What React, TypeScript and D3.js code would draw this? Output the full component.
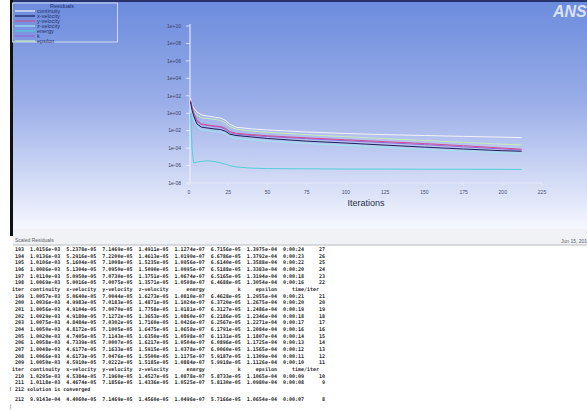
import * as d3 from 'd3';

const W = 587;
const H = 410;

const plotIters = [1, 2, 3, 5, 8, 12, 16, 20, 23, 26, 30, 40, 50, 75, 100, 125, 150, 175, 200, 212];
const continuityRes = [50, 8, 4, 1.4, 0.63, 0.47, 0.36, 0.28, 0.16, 0.056, 0.025, 0.016, 0.012, 7.1e-3, 4.7e-3, 3.5e-3, 2.8e-3, 2.2e-3, 1.8e-3, 1.6e-3];
const xVelRes = [20, 2, 0.5, 0.06, 0.025, 0.02, 0.016, 0.0135, 9e-3, 4e-3, 2.8e-3, 1.9e-3, 1.26e-3, 6.3e-4, 3.8e-4, 2.2e-4, 1.3e-4, 7.9e-5, 5e-5, 4.4e-5];
const yVelRes = [30, 5, 1.2, 0.15, 0.06, 0.045, 0.035, 0.03, 0.02, 8e-3, 5e-3, 3.5e-3, 2.6e-3, 1.5e-3, 9e-4, 5.5e-4, 3.3e-4, 1.9e-4, 1e-4, 7.5e-5];
const zVelRes = [8, 1, 0.2, 0.03, 0.012, 0.01, 8e-3, 7e-3, 5e-3, 2e-3, 1.3e-3, 9e-4, 6.5e-4, 3.4e-4, 2e-4, 1.2e-4, 7e-5, 4.5e-5, 3e-5, 2.5e-5];
const energyRes = [1, 6e-5, 2e-6, 2.5e-6, 3e-6, 3.5e-6, 3e-6, 2e-6, 1.5e-6, 1e-6, 7e-7, 5e-7, 4.5e-7, 4.2e-7, 4e-7, 4e-7, 3.8e-7, 3.8e-7, 3.7e-7, 3.7e-7];
const kRes = [25, 4, 1, 0.12, 0.05, 0.04, 0.03, 0.025, 0.015, 6e-3, 4e-3, 2.8e-3, 2.1e-3, 1.2e-3, 7e-4, 4.2e-4, 2.5e-4, 1.4e-4, 8e-5, 6e-5];
const epsilonRes = [20, 3, 1.5, 0.6, 0.3, 0.25, 0.2, 0.15, 0.08, 0.03, 0.015, 9e-3, 6.5e-3, 3.5e-3, 2e-3, 1.2e-3, 7.5e-4, 4.5e-4, 2.8e-4, 2.3e-4];

const seriesNames = ['continuity', 'x-velocity', 'y-velocity', 'z-velocity', 'energy', 'k', 'epsilon'];
const seriesColors = ['#f4f2f6', '#1d1f5c', '#cf4f95', '#a2e4ee', '#54cfd8', '#9a66d4', '#c6ecbc'];
const seriesValues = [continuityRes, xVelRes, yVelRes, zVelRes, energyRes, kRes, epsilonRes];
// bottom to top
const drawOrder = [4, 3, 6, 0, 5, 2, 1];

const yTicks = [1e10, 1e8, 1e6, 1e4, 1e2, 1, 1e-2, 1e-4, 1e-6, 1e-8];
const yTickLabels = ['1e+10', '1e+08', '1e+06', '1e+04', '1e+02', '1e+00', '1e-02', '1e-04', '1e-06', '1e-08'];
const xTicks = [0, 25, 50, 75, 100, 125, 150, 175, 200, 225];

// console text
const tableIters = [193, 194, 195, 196, 197, 198, 199, 200, 201, 202, 203, 204, 205, 206, 207, 208, 209, 210, 211, 212];
const tContinuity = ['1.0156e-03', '1.0136e-03', '1.0106e-03', '1.0086e-03', '1.0110e-03', '1.0069e-03', '1.0057e-03', '1.0036e-03', '1.0056e-03', '1.0029e-03', '1.0075e-03', '1.0050e-03', '1.0020e-03', '1.0058e-03', '1.0048e-03', '1.0066e-03', '1.0050e-03', '1.0295e-03', '1.0118e-03', '9.9143e-04'];
const tXVel = ['5.2378e-05', '5.2916e-05', '5.1604e-05', '5.1304e-05', '5.0950e-05', '5.0016e-05', '5.0640e-05', '4.9983e-05', '4.9104e-05', '4.9180e-05', '4.8484e-05', '4.8172e-05', '4.7405e-05', '4.7339e-05', '4.6177e-05', '4.6173e-05', '4.5910e-05', '4.5384e-05', '4.4674e-05', '4.4060e-05'];
const tYVel = ['7.1469e-05', '7.2200e-05', '7.1008e-05', '7.0950e-05', '7.0730e-05', '7.0075e-05', '7.0044e-05', '7.0183e-05', '7.0070e-05', '7.1272e-05', '7.0302e-05', '7.1005e-05', '7.1143e-05', '7.0007e-05', '7.1633e-05', '7.0476e-05', '7.0222e-05', '7.1960e-05', '7.1856e-05', '7.1469e-05'];
const tZVel = ['1.4911e-05', '1.4613e-05', '1.5235e-05', '1.5090e-05', '1.3751e-05', '1.3571e-05', '1.6273e-05', '1.4871e-05', '1.7758e-05', '1.3653e-05', '1.7160e-05', '1.6475e-05', '1.6350e-05', '1.6217e-05', '1.5915e-05', '1.5500e-05', '1.5185e-05', '1.4527e-05', '1.4336e-05', '1.4560e-05'];
const tEnergy = ['1.1274e-07', '1.0190e-07', '1.0956e-07', '1.0095e-07', '1.0674e-07', '1.0508e-07', '1.0810e-07', '1.1024e-07', '1.0181e-07', '1.0860e-07', '1.0426e-07', '1.0658e-07', '1.0598e-07', '1.0504e-07', '1.0378e-07', '1.1175e-07', '1.0884e-07', '1.0878e-07', '1.0525e-07', '1.0496e-07'];
const tK = ['6.7156e-05', '6.6786e-05', '6.6140e-05', '6.5188e-05', '6.5165e-05', '6.4688e-05', '6.4628e-05', '6.3720e-05', '6.3127e-05', '6.2186e-05', '6.2567e-05', '6.1791e-05', '6.1131e-05', '6.0896e-05', '6.0060e-05', '5.9187e-05', '5.9918e-05', '5.8733e-05', '5.8130e-05', '5.7166e-05'];
const tEpsilon = ['1.3975e-04', '1.3792e-04', '1.3588e-04', '1.3383e-04', '1.3194e-04', '1.3054e-04', '1.2955e-04', '1.2675e-04', '1.2486e-04', '1.2346e-04', '1.2271e-04', '1.2084e-04', '1.1807e-04', '1.1725e-04', '1.1565e-04', '1.1309e-04', '1.1126e-04', '1.1065e-04', '1.0980e-04', '1.0654e-04'];
const tTime = ['0:00:24', '0:00:23', '0:00:22', '0:00:20', '0:00:18', '0:00:16', '0:00:21', '0:00:20', '0:00:19', '0:00:18', '0:00:17', '0:00:16', '0:00:14', '0:00:13', '0:00:12', '0:00:11', '0:00:10', '0:00:09', '0:00:08', '0:00:07'];
const tLeft = [27, 26, 25, 24, 23, 22, 21, 20, 19, 18, 17, 16, 15, 14, 13, 12, 11, 10, 9, 8];

const headerCols = ['continuity', 'x-velocity', 'y-velocity', 'z-velocity', 'energy', 'k', 'epsilon'];

function fmtRow(i: number) {
  const vals = [tContinuity[i], tXVel[i], tYVel[i], tZVel[i], tEnergy[i], tK[i], tEpsilon[i]];
  return (
    String(tableIters[i]).padStart(6) +
    vals.map((v) => v.padStart(12)).join('') +
    tTime[i].padStart(9) +
    String(tLeft[i]).padStart(7)
  );
}

const header = '  iter' + headerCols.map((c) => c.padStart(12)).join('') + 'time/iter'.padStart(14);

export default function App() {
  const x = d3.scaleLinear().domain([0, 225]).range([189, 542]);
  const y = d3.scaleLog().domain([1e-8, 1e10]).range([183, 26]);

  const line = (vals: number[]) =>
    d3
      .line<number>()
      .x((_, i) => x(plotIters[i]))
      .y((d) => y(d))(vals) || '';

  // console lines
  const consoleLines: { text: string; gap: number }[] = [];
  for (let i = 0; i < 6; i++) consoleLines.push({ text: fmtRow(i), gap: 0 });
  consoleLines.push({ text: header, gap: 0 });
  for (let i = 6; i < 17; i++) consoleLines.push({ text: fmtRow(i), gap: 0 });
  consoleLines.push({ text: header, gap: 0 });
  for (let i = 17; i < 19; i++) consoleLines.push({ text: fmtRow(i), gap: 0 });
  consoleLines.push({ text: ' ! 212 solution is converged', gap: 0 });
  consoleLines.push({ text: fmtRow(19), gap: 3 });

  const mono = '"DejaVu Sans Mono", "Liberation Mono", monospace';
  const sans = '"Liberation Sans", Arial, sans-serif';

  return (
    <div style={{ position: 'absolute', left: 0, top: 0 }}>
      <svg width={W} height={H} viewBox={`0 0 ${W} ${H}`} style={{ display: 'block' }}>
        <defs>
          <linearGradient id="bg" x1="0" y1="0" x2="0" y2="1">
            <stop offset="0" stopColor="#6b8bdd" />
            <stop offset="0.45" stopColor="#9aaee8" />
            <stop offset="0.75" stopColor="#ccd6f4" />
            <stop offset="1" stopColor="#f6f8fe" />
          </linearGradient>
          <clipPath id="gclip">
            <rect x={13} y={0} width={W - 13} height={229} />
          </clipPath>
        </defs>

        <rect x={0} y={0} width={W} height={H} fill="#ffffff" />

        {/* graphics window */}
        <rect x={13} y={0} width={W - 13} height={229} fill="url(#bg)" />
        <rect x={13} y={0} width={W - 13} height={2} fill="#27346c" />
        <rect x={10} y={0} width={3} height={236} fill="#111111" />

        <g clipPath="url(#gclip)">
          <text x={553} y={17} fontFamily={sans} fontSize={16} fontWeight="bold" fontStyle="italic" fill="#dbe1f1">
            ANSYS
          </text>
        </g>

        {/* legend */}
        <rect x={12.5} y={3} width={105} height={39} fill="none" stroke="#e4eaf8" strokeWidth={0.8} />
        <text x={62} y={8} textAnchor="middle" fontFamily={sans} fontSize={5.5} fill="#24306a">
          Residuals
        </text>
        {seriesNames.map((name, i) => (
          <g key={name}>
            <line x1={15} x2={35} y1={11 + i * 5} y2={11 + i * 5} stroke={seriesColors[i]} strokeWidth={1.2} />
            <text x={37} y={12.8 + i * 5} fontFamily={sans} fontSize={5.5} fill="#24306a">
              {name}
            </text>
          </g>
        ))}

        {/* axes */}
        <line x1={190} x2={190} y1={24} y2={183} stroke="#f2f5ff" strokeWidth={1} />
        <line x1={190} x2={542} y1={183} y2={183} stroke="#e8edfb" strokeWidth={0.8} />
        {yTicks.map((t, i) => (
          <g key={t}>
            <line x1={186} x2={190} y1={y(t)} y2={y(t)} stroke="#f2f5ff" strokeWidth={0.8} />
            <text x={181} y={y(t) + 1.8} textAnchor="end" fontFamily={sans} fontSize={5} fill="#3d4466">
              {yTickLabels[i]}
            </text>
          </g>
        ))}
        {xTicks.map((t) => (
          <g key={t}>
            <line x1={x(t)} x2={x(t)} y1={183} y2={186} stroke="#e8edfb" strokeWidth={0.8} />
            <text x={x(t)} y={194} textAnchor="middle" fontFamily={sans} fontSize={5} fill="#4a5070">
              {t}
            </text>
          </g>
        ))}
        <text x={366} y={206} textAnchor="middle" fontFamily={sans} fontSize={9} fill="#2b2f48">
          Iterations
        </text>

        {/* residual curves */}
        {drawOrder.map((si) => (
          <path
            key={seriesNames[si]}
            d={line(seriesValues[si])}
            fill="none"
            stroke={seriesColors[si]}
            strokeWidth={1}
            strokeLinejoin="round"
          />
        ))}

        {/* console header */}
        <rect x={13} y={229} width={W - 13} height={16} fill="#f1f2f6" />
        <line x1={13} x2={W} y1={245} y2={245} stroke="#a9abb2" strokeWidth={0.8} />
        <text x={15} y={242} fontFamily={sans} fontSize={5} fill="#5c5f68">
          Scaled Residuals
        </text>
        <text x={561} y={243} fontFamily={sans} fontSize={5} fill="#5c5f68">
          Jun 15, 2013
        </text>

        {/* console text */}
        {consoleLines.map((l, i) => (
          <text
            key={i}
            x={6}
            y={251 + i * 6.67 + l.gap}
            fontFamily={mono}
            fontSize={5}
            fontWeight="bold"
            fill="#2a2a2a"
            xmlSpace="preserve"
            style={{ whiteSpace: 'pre' }}
          >
            {l.text}
          </text>
        ))}
        <text x={9} y={408} fontFamily={mono} fontSize={5} fill="#555">
          |
        </text>
      </svg>
    </div>
  );
}
